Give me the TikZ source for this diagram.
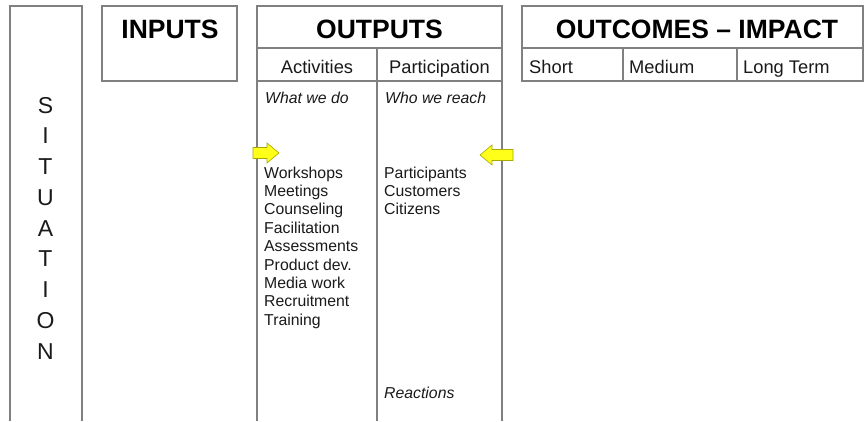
\documentclass[tikz,border=0pt]{standalone}
\usepackage{fontspec}
\setmainfont{Liberation Sans}
\definecolor{linegray}{HTML}{808080}
\definecolor{arrowyellow}{HTML}{FFFF1A}
\definecolor{arrowedge}{HTML}{A8A800}
\definecolor{textdark}{HTML}{1A1A1A}
\begin{document}
\begin{tikzpicture}[x=1pt,y=-1pt,
  frame/.style={draw=linegray, line width=1.6pt},
  title/.style={font=\fontsize{26.5}{30}\selectfont\bfseries, text=black, inner sep=0, anchor=base},
  sub/.style={font=\fontsize{18.3}{21}\selectfont, text=textdark, inner sep=0},
  item/.style={font=\fontsize{15.8}{18.4}\selectfont, text=textdark, inner sep=0, anchor=base west},
  letter/.style={font=\fontsize{23}{26}\selectfont, text=textdark, inner sep=0, anchor=base},
  yarrow/.style={fill=arrowyellow, draw=arrowedge, line width=0.6pt, line join=miter}]
\useasboundingbox (0,0) rectangle (864,421);
\fill[white] (0,0) rectangle (864,421);

% SITUATION column
\draw[frame] (10,421) -- (10,6) -- (82,6) -- (82,421);
\foreach \ch [count=\i from 0] in {S,I,T,U,A,T,I,O,N}
  \node[letter] (sit\i) at (45.5,{113+30.75*\i}) {\ch};

% INPUTS box
\draw[frame] (102,6) rectangle (237,81);
\node[title] (tin) at (170,38.5) {INPUTS};

% OUTPUTS
\draw[frame] (257,421) -- (257,6) -- (502,6) -- (502,421);
\draw[frame] (257,48) -- (502,48);
\draw[frame] (257,81) -- (502,81);
\draw[frame] (377,48) -- (377,421);
\node[title] (tout) at (379.5,38.5) {OUTPUTS};
\node[sub, anchor=base] (act) at (317,73.5) {Activities};
\node[sub, anchor=base] (par) at (439.5,73.5) {Participation};
\node[item] (wwd) at (265,103) {\itshape What we do};
\node[item] (wwr) at (385,103) {\itshape Who we reach};
\foreach \t [count=\i from 0] in {Workshops,Meetings,Counseling,Facilitation,Assessments,Product dev.,Media work,Recruitment,Training}
  \node[item] (act\i) at (264,{178+18.4*\i}) {\t};
\foreach \t [count=\i from 0] in {Participants,Customers,Citizens}
  \node[item] (par\i) at (384,{178+18.4*\i}) {\t};
\node[item] (react) at (384,398) {\itshape Reactions};

% OUTCOMES - IMPACT
\draw[frame] (522,6) rectangle (863,81);
\draw[frame] (522,48) -- (863,48);
\draw[frame] (623,48) -- (623,81);
\draw[frame] (737,48) -- (737,81);
\node[title] (tocm) at (697,38.5) {OUTCOMES – IMPACT};
\node[sub, anchor=base west] (sh) at (529,73.5) {Short};
\node[sub, anchor=base west] (med) at (629,73.5) {Medium};
\node[sub, anchor=base west] (lt) at (743,73.5) {Long Term};

% yellow arrows
\draw[yarrow] (253,147.5) -- (267,147.5) -- (267,143) -- (279,153) -- (267,163) -- (267,158.5) -- (253,158.5) -- cycle;
\draw[yarrow] (513,149.5) -- (492,149.5) -- (492,145) -- (480,155) -- (492,165) -- (492,160.5) -- (513,160.5) -- cycle;
\end{tikzpicture}
\end{document}
